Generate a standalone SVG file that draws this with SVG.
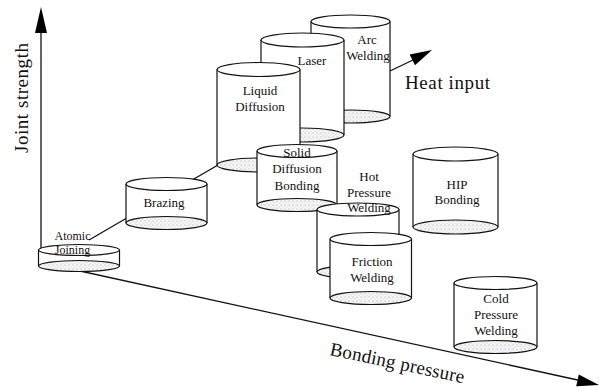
<svg xmlns="http://www.w3.org/2000/svg" width="599" height="388" viewBox="0 0 599 388">
<style>
.ln{stroke:#111;stroke-width:1.3;fill:none}
.body{fill:#fff;stroke:none}
.side{stroke:#111;stroke-width:1.2}
.bot{fill:url(#stip);stroke:#111;stroke-width:1.2}
.top{fill:#fff;stroke:#111;stroke-width:1.2}
.lbl{font-family:"Liberation Serif",serif;font-size:13px;text-anchor:middle;fill:#111}
.sm{font-size:12px}
.ax{font-family:"Liberation Serif",serif;font-size:19px;fill:#111}
.head{fill:#000;stroke:none}
</style>
<defs>
<pattern id="stip" width="4" height="4" patternUnits="userSpaceOnUse">
<rect width="4" height="4" fill="#f4f4f4"/>
<circle cx="1" cy="1" r="0.5" fill="#999"/>
<circle cx="3" cy="3" r="0.4" fill="#bbb"/>
</pattern>
</defs>

<g id="axes">
<line class="ln" x1="41" y1="266" x2="41" y2="30"/>
<polygon class="head" points="41,7 35,33 47,33"/>
<line class="ln" x1="80" y1="271" x2="580" y2="380.5"/>
<polygon class="head" points="599,385 578.8,374.4 576.2,386.2"/>
<line class="ln" x1="390" y1="71" x2="414" y2="59.5"/>
<polygon class="head" points="432,50 415,65.2 409.6,54.4"/>
<text class="ax" transform="translate(28,98) rotate(-90)" text-anchor="middle" textLength="110">Joint strength</text>
<text class="ax" x="405" y="89" textLength="85">Heat input</text>
<text class="ax" transform="translate(396,369) rotate(11.9)" text-anchor="middle" textLength="137">Bonding pressure</text>
</g>

<g id="connectors">
<line class="ln" x1="89" y1="240" x2="218" y2="165"/>
</g>

<g id="arc-welding">
<rect class="body" x="311" y="21.5" width="79" height="95"/>
<line class="side" x1="311" y1="21.5" x2="311" y2="116.5"/>
<line class="side" x1="390" y1="21.5" x2="390" y2="116.5"/>
<ellipse class="bot" cx="350.5" cy="116.5" rx="39.5" ry="6.5"/>
<ellipse class="top" cx="350.5" cy="21.5" rx="39.5" ry="6.5"/>
<text class="lbl" x="367" y="44">Arc</text>
<text class="lbl" x="368" y="59.5">Welding</text>
</g>

<g id="laser">
<rect class="body" x="261" y="40" width="83" height="95"/>
<line class="side" x1="261" y1="40" x2="261" y2="135"/>
<line class="side" x1="344" y1="40" x2="344" y2="135"/>
<ellipse class="bot" cx="302.5" cy="135" rx="41.5" ry="7"/>
<ellipse class="top" cx="302.5" cy="40" rx="41.5" ry="7"/>
<text class="lbl" x="312" y="65">Laser</text>
</g>

<g id="liquid-diffusion">
<rect class="body" x="217" y="69.5" width="83" height="95.5"/>
<line class="side" x1="217" y1="69.5" x2="217" y2="165"/>
<line class="side" x1="300" y1="69.5" x2="300" y2="165"/>
<ellipse class="bot" cx="258.5" cy="165" rx="41.5" ry="7"/>
<ellipse class="top" cx="258.5" cy="69.5" rx="41.5" ry="7"/>
<text class="lbl" x="260" y="95">Liquid</text>
<text class="lbl" x="260" y="111">Diffusion</text>
</g>

<g id="atomic-joining">
<rect class="body" x="38.5" y="250" width="81" height="16"/>
<line class="side" x1="38.5" y1="250" x2="38.5" y2="266"/>
<line class="side" x1="119.5" y1="250" x2="119.5" y2="266"/>
<ellipse class="bot" cx="79" cy="266" rx="40.5" ry="5.5"/>
<ellipse class="top" cx="79" cy="250" rx="40.5" ry="5.5"/>
<text class="lbl sm" x="72.5" y="240">Atomic</text>
<text class="lbl sm" x="72.5" y="253.5">Joining</text>
</g>

<g id="brazing">
<rect class="body" x="126" y="184" width="81" height="39"/>
<line class="side" x1="126" y1="184" x2="126" y2="223"/>
<line class="side" x1="207" y1="184" x2="207" y2="223"/>
<ellipse class="bot" cx="166.5" cy="223" rx="40.5" ry="6.5"/>
<ellipse class="top" cx="166.5" cy="184" rx="40.5" ry="6.5"/>
<text class="lbl" x="164" y="207">Brazing</text>
</g>

<g id="solid-diffusion-bonding">
<rect class="body" x="257" y="151" width="80" height="54"/>
<line class="side" x1="257" y1="151" x2="257" y2="205"/>
<line class="side" x1="337" y1="151" x2="337" y2="205"/>
<ellipse class="bot" cx="297" cy="205" rx="40" ry="6.5"/>
<ellipse class="top" cx="297" cy="151" rx="40" ry="6.5"/>
<text class="lbl" x="297" y="157">Solid</text>
<text class="lbl" x="297" y="173">Diffusion</text>
<text class="lbl" x="297" y="189.5">Bonding</text>
</g>

<g id="hot-pressure-welding">
<rect class="body" x="317" y="209.5" width="82" height="62.5"/>
<line class="side" x1="317" y1="209.5" x2="317" y2="272"/>
<line class="side" x1="399" y1="209.5" x2="399" y2="272"/>
<ellipse class="bot" cx="358" cy="272" rx="41" ry="6.5"/>
<ellipse class="top" cx="358" cy="209.5" rx="41" ry="6.5"/>
<text class="lbl" x="369" y="180.5">Hot</text>
<text class="lbl" x="369" y="196.5">Pressure</text>
<text class="lbl" x="369" y="212">Welding</text>
</g>

<g id="friction-welding">
<rect class="body" x="330" y="239" width="81.5" height="59"/>
<line class="side" x1="330" y1="239" x2="330" y2="298"/>
<line class="side" x1="411.5" y1="239" x2="411.5" y2="298"/>
<ellipse class="bot" cx="370.75" cy="298" rx="40.75" ry="6.5"/>
<ellipse class="top" cx="370.75" cy="239" rx="40.75" ry="6.5"/>
<text class="lbl" x="372" y="266">Friction</text>
<text class="lbl" x="372" y="281.5">Welding</text>
</g>

<g id="hip-bonding">
<rect class="body" x="413" y="154" width="85" height="73"/>
<line class="side" x1="413" y1="154" x2="413" y2="227"/>
<line class="side" x1="498" y1="154" x2="498" y2="227"/>
<ellipse class="bot" cx="455.5" cy="227" rx="42.5" ry="7"/>
<ellipse class="top" cx="455.5" cy="154" rx="42.5" ry="7"/>
<text class="lbl" x="457" y="189">HIP</text>
<text class="lbl" x="457" y="204">Bonding</text>
</g>

<g id="cold-pressure-welding">
<rect class="body" x="454" y="283" width="83" height="64"/>
<line class="side" x1="454" y1="283" x2="454" y2="347"/>
<line class="side" x1="537" y1="283" x2="537" y2="347"/>
<ellipse class="bot" cx="495.5" cy="347" rx="41.5" ry="6.5"/>
<ellipse class="top" cx="495.5" cy="283" rx="41.5" ry="6.5"/>
<text class="lbl" x="496" y="303">Cold</text>
<text class="lbl" x="496" y="319">Pressure</text>
<text class="lbl" x="496" y="335">Welding</text>
</g>
</svg>
